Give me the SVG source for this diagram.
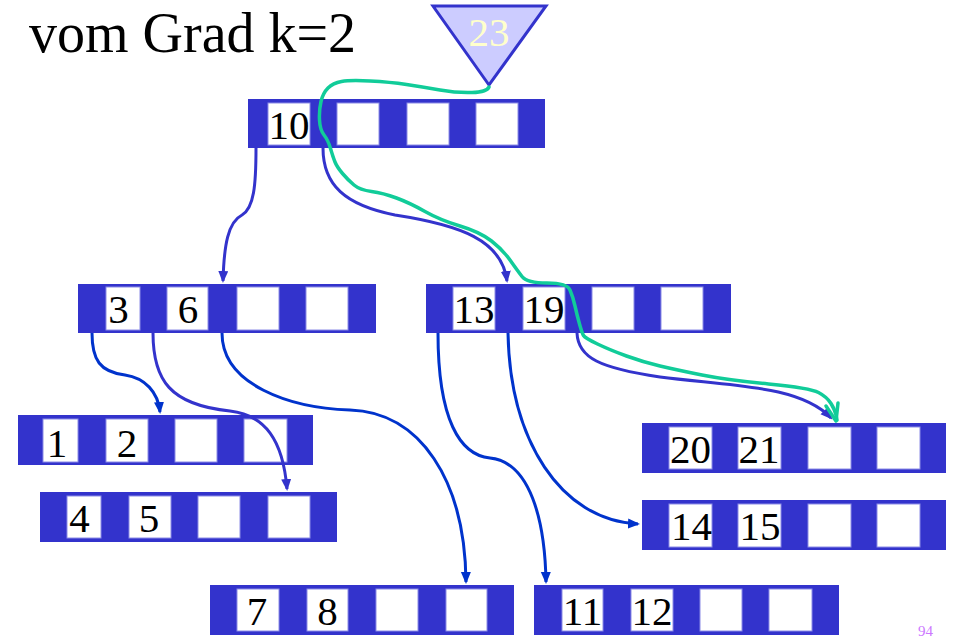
<svg xmlns="http://www.w3.org/2000/svg" width="958" height="638" viewBox="0 0 958 638">
<style>
.outer{fill:#3333cc}
.box{fill:#ffffff;stroke:#8c8ce6;stroke-width:1}
.serif{font-family:"Liberation Serif","Times New Roman","DejaVu Serif",serif}
.num{font-size:41px;fill:#000000;text-anchor:middle}
.cp{fill:none;stroke:#3333cc;stroke-width:3}
.cb{fill:none;stroke:#0033cc;stroke-width:3}
.green{fill:none;stroke:#11cc99;stroke-width:3.5;stroke-linejoin:round;stroke-linecap:round}
</style>
<defs>
<marker id="ap" markerWidth="14" markerHeight="12" refX="10" refY="5" orient="auto" markerUnits="userSpaceOnUse"><path d="M0,0 L12,5 L0,10 z" fill="#3333cc"/></marker>
<marker id="ab" markerWidth="14" markerHeight="12" refX="10" refY="5" orient="auto" markerUnits="userSpaceOnUse"><path d="M0,0 L12,5 L0,10 z" fill="#0033cc"/></marker>
</defs>
<rect width="958" height="638" fill="#ffffff"/>
<text class="serif" x="29" y="52" font-size="56" fill="#000000">vom Grad k=2</text>
<g id="pointer23">
<polygon points="433,6 546,6 489,85" fill="#ccccff" stroke="#3333cc" stroke-width="3"/>
<text class="serif" x="489" y="46" font-size="41" fill="#ffffcc" text-anchor="middle">23</text>
</g>
<g id="node-root">
<rect class="outer" x="248" y="99" width="297" height="49"/>
<rect class="box" x="268" y="103" width="42" height="42"/>
<rect class="box" x="337" y="103" width="42" height="42"/>
<rect class="box" x="407" y="103" width="42" height="42"/>
<rect class="box" x="476" y="103" width="42" height="42"/>
<text class="serif num" x="289" y="139">10</text>
</g>
<g id="node-3-6">
<rect class="outer" x="78" y="284" width="298" height="49"/>
<rect class="box" x="106" y="287" width="34" height="43"/>
<rect class="box" x="167" y="287" width="41" height="43"/>
<rect class="box" x="237" y="287" width="42" height="43"/>
<rect class="box" x="306" y="287" width="42" height="43"/>
<text class="serif num" x="118.5" y="323">3</text>
<text class="serif num" x="188" y="323">6</text>
</g>
<g id="node-13-19">
<rect class="outer" x="426" y="284" width="305" height="49"/>
<rect class="box" x="453" y="287" width="42" height="43"/>
<rect class="box" x="523" y="287" width="42" height="43"/>
<rect class="box" x="592" y="287" width="42" height="43"/>
<rect class="box" x="661" y="287" width="42" height="43"/>
<text class="serif num" x="474" y="323">13</text>
<text class="serif num" x="544" y="323">19</text>
</g>
<g id="node-1-2">
<rect class="outer" x="18" y="415" width="295" height="50"/>
<rect class="box" x="43" y="419" width="35" height="43"/>
<rect class="box" x="106" y="419" width="42" height="43"/>
<rect class="box" x="175" y="419" width="42" height="43"/>
<rect class="box" x="244" y="419" width="43" height="43"/>
<text class="serif num" x="57" y="457">1</text>
<text class="serif num" x="127" y="457">2</text>
</g>
<g id="node-4-5">
<rect class="outer" x="40" y="492" width="297" height="50"/>
<rect class="box" x="67" y="496" width="34" height="42"/>
<rect class="box" x="129" y="496" width="42" height="42"/>
<rect class="box" x="198" y="496" width="42" height="42"/>
<rect class="box" x="268" y="496" width="42" height="42"/>
<text class="serif num" x="79.5" y="532">4</text>
<text class="serif num" x="149" y="532">5</text>
</g>
<g id="node-20-21">
<rect class="outer" x="642" y="423" width="304" height="50"/>
<rect class="box" x="669" y="427" width="43" height="42"/>
<rect class="box" x="738" y="427" width="43" height="42"/>
<rect class="box" x="808" y="427" width="43" height="42"/>
<rect class="box" x="877" y="427" width="43" height="42"/>
<text class="serif num" x="690.5" y="463">20</text>
<text class="serif num" x="759" y="463">21</text>
</g>
<g id="node-14-15">
<rect class="outer" x="642" y="500" width="304" height="50"/>
<rect class="box" x="669" y="504" width="43" height="43"/>
<rect class="box" x="738" y="504" width="43" height="43"/>
<rect class="box" x="808" y="504" width="43" height="43"/>
<rect class="box" x="877" y="504" width="43" height="43"/>
<text class="serif num" x="691.5" y="540">14</text>
<text class="serif num" x="760" y="540">15</text>
</g>
<g id="node-7-8">
<rect class="outer" x="210" y="585" width="304" height="50"/>
<rect class="box" x="237" y="589" width="42" height="42"/>
<rect class="box" x="307" y="589" width="41" height="42"/>
<rect class="box" x="376" y="589" width="42" height="42"/>
<rect class="box" x="446" y="589" width="41" height="42"/>
<text class="serif num" x="257" y="625">7</text>
<text class="serif num" x="327.5" y="625">8</text>
</g>
<g id="node-11-12">
<rect class="outer" x="534" y="585" width="305" height="50"/>
<rect class="box" x="562" y="589" width="41" height="42"/>
<rect class="box" x="631" y="589" width="42" height="42"/>
<rect class="box" x="700" y="589" width="42" height="42"/>
<rect class="box" x="769" y="589" width="43" height="42"/>
<text class="serif num" x="582.5" y="625">11</text>
<text class="serif num" x="652" y="625">12</text>
</g>
<g id="connectors">
<path class="cp" marker-end="url(#ap)" d="M256,148 C256,185 254,208 242,215 C228,222 224,245 223,281"/>
<path class="cp" marker-end="url(#ap)" d="M323,148 C323,185 345,205 395,215 C460,225 502,240 507,281"/>
<path class="cb" marker-end="url(#ab)" d="M92,333 C92,360 100,372 125,375 C145,378 158,392 160,412"/>
<path class="cp" marker-end="url(#ap)" d="M153,333 C153,380 170,405 230,411 C265,415 283,440 287,489"/>
<path class="cb" marker-end="url(#ab)" d="M222,333 C222,385 290,408 350,410 C420,412 465,480 466,582"/>
<path class="cb" marker-end="url(#ab)" d="M438,333 C438,420 460,455 490,458 C530,462 545,520 546,582"/>
<path class="cb" marker-end="url(#ab)" d="M508,333 C510,440 560,520 638,524"/>
<path class="cp" marker-end="url(#ap)" d="M577,333 C578,358 600,368 660,377 C730,386 800,385 831,418"/>
</g>
<g id="search-path">
<path class="green" d="M489,87 Q487,92 472,92.5 Q457,93 440,90 Q423,87 406.5,84.5 Q390,82 370,81 Q350,80 341.5,81.5 Q333,83 328,88 Q323,93 321,101.5 Q319,110 319.5,120 Q320,130 324,135 Q328,140 330.5,148.5 Q333,157 335,162 Q337,167 342.5,173.5 Q348,180 354,185 Q360,190 371.5,191.5 Q383,193 396.5,198 Q410,203 425,211.5 Q440,220 460,226 Q480,232 491.5,241 Q503,250 510,260 Q517,270 522,276.5 Q527,283 547,283 Q567,283 570,290 Q573,297 575,306 Q577,315 579.5,324 Q582,333 583.5,335.5 Q585,338 597.5,344 Q610,350 626.5,356 Q643,362 660,366 Q677,370 702,375 Q727,380 768.5,384 Q810,388 818.5,392.5 Q827,397 831,403.5 Q835,410 836,415 L837,420"/>
<polyline class="green" points="826,406 836,421 838,403"/>
</g>
<text class="serif" x="918" y="636" font-size="15" fill="#cc77ff">94</text>
</svg>
